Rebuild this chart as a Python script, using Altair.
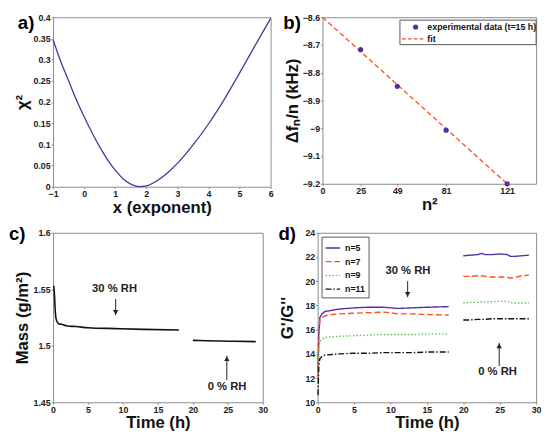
import altair as alt
import pandas as pd

FONT = "Liberation Sans"
PURPLE = "#55309a"
RED = "#ff4f1f"
GREEN = "#5cc25c"
BOX = "#8a8a8a"

# ---------- panel a : chi^2 vs exponent ----------
a_x = [-1, -0.75, -0.5, -0.25, 0, 0.25, 0.5, 0.75, 1.0, 1.25, 1.5, 1.75, 2.0,
       2.25, 2.5, 2.75, 3.0, 3.5, 4.0, 4.5, 5.0, 5.5, 6.0]
a_y = [0.347, 0.295, 0.25, 0.205, 0.165, 0.128, 0.094, 0.064, 0.039, 0.019, 0.006,
       0.0005, 0.002, 0.01, 0.022, 0.037, 0.055, 0.098, 0.148, 0.205, 0.268, 0.333, 0.397]
a_ticks_x = [-1, 0, 1, 2, 3, 4, 5, 6]
a_ticks_y = [0, 0.05, 0.1, 0.15, 0.2, 0.25, 0.3, 0.35, 0.4]

# ---------- panel b : delta f / n vs n^2 ----------
b_n2 = [25, 49, 81, 121]
b_df = [-8.717, -8.849, -9.007, -9.2]
b_fit_x = [0, 121]
b_fit_y = [-8.6, -9.2]
b_ticks_x = [0, 25, 49, 81, 121]
b_ticks_y = [-9.2, -9.1, -9.0, -8.9, -8.8, -8.7, -8.6]
b_series = ["experimental data (t=15 h)", "fit"]

# ---------- panel c : mass vs time ----------
c_t1 = [0.1, 0.2, 0.3, 0.4, 0.6, 0.8, 1.2, 2, 3.3, 5, 9, 13, 18]
c_m1 = [1.553, 1.545, 1.532, 1.525, 1.521, 1.5195, 1.519, 1.5175, 1.517, 1.516, 1.5152, 1.5145, 1.514]
c_t2 = [20, 22, 24, 26, 29]
c_m2 = [1.5048, 1.5045, 1.5042, 1.504, 1.5037]
c_ticks_x = [0, 5, 10, 15, 20, 25, 30]
c_ticks_y = [1.45, 1.5, 1.55, 1.6]

# ---------- panel d : G'/G'' vs time ----------
d_names = ["n=5", "n=7", "n=9", "n=11"]
d_t1 = [0.05, 0.15, 0.3, 0.6, 1, 2, 3, 5, 7, 9, 10, 11, 13, 15, 18]
d_v1 = {
    "n=5": [12.5, 15.5, 17.0, 17.3, 17.5, 17.6, 17.7, 17.8, 17.85, 17.85, 17.8, 17.75, 17.8, 17.85, 17.9],
    "n=7": [12.0, 15.0, 16.8, 17.0, 17.15, 17.25, 17.3, 17.35, 17.4, 17.45, 17.4, 17.3, 17.3, 17.25, 17.2],
    "n=9": [12.5, 14.2, 15.0, 15.2, 15.35, 15.4, 15.45, 15.5, 15.55, 15.6, 15.6, 15.6, 15.6, 15.65, 15.65],
    "n=11": [10.6, 12.8, 13.6, 13.8, 13.9, 13.95, 14.0, 14.05, 14.05, 14.1, 14.1, 14.1, 14.1, 14.15, 14.15],
}
d_t2 = [20, 21, 22, 22.5, 23, 24, 25, 26, 26.5, 27, 28, 29]
d_v2 = {
    "n=5": [22.1, 22.15, 22.2, 22.3, 22.2, 22.2, 22.25, 22.2, 22.05, 22.05, 22.1, 22.15],
    "n=7": [20.4, 20.4, 20.45, 20.45, 20.4, 20.35, 20.35, 20.35, 20.25, 20.3, 20.45, 20.5],
    "n=9": [18.2, 18.25, 18.25, 18.3, 18.3, 18.3, 18.35, 18.35, 18.25, 18.2, 18.2, 18.2],
    "n=11": [16.8, 16.8, 16.85, 16.85, 16.85, 16.9, 16.9, 16.9, 16.9, 16.9, 16.9, 16.9],
}
d_ticks_x = [0, 5, 10, 15, 20, 25, 30]
d_ticks_y = [10, 12, 14, 16, 18, 20, 22, 24]

# annotations (text, x, y) and arrows (x, y_tail, y_head)
c_notes = [("30 % RH", 8.8, 1.5498), ("0 % RH", 24.9, 1.4635)]
c_arrows = [(8.95, 1.5414, 1.527), (24.86, 1.4695, 1.4911)]
d_notes = [("30 % RH", 12.4, 20.83), ("0 % RH", 24.7, 12.47)]
d_arrows = [(12.36, 20.0, 18.67), (24.93, 13.0, 14.9)]


def axis(title, values, fmt="~r", tp=0):
    return alt.Axis(title=title, values=values, format=fmt, grid=False, ticks=True,
                    tickSize=2, tickColor=BOX, domain=False, labelPadding=1,
                    titlePadding=tp, labelFlush=False, labelOverlap=False)


def yaxis(title, values, fmt="~r"):
    return alt.Axis(title=title, values=values, format=fmt, grid=False, ticks=True,
                    tickSize=2, tickColor=BOX, domain=False, labelPadding=1,
                    titleX=-22, titleBaseline="bottom", titleAngle=270,
                    labelFlush=False, labelOverlap=False)


def panel_label(txt, dx, dy):
    return alt.Chart(pd.DataFrame({"t": [txt]})).mark_text(
        font=FONT, fontSize=19, fontWeight="bold", align="left", baseline="top"
    ).encode(text="t:N", x=alt.value(dx), y=alt.value(dy))


def arrows(arr, xs, ys, xax, yax):
    out = []
    for row in arr:
        up = row[2] > row[1]
        df = pd.DataFrame([row], columns=["x", "y0", "y1"])
        out.append(alt.Chart(df).mark_rule(color="#222", strokeWidth=1).encode(
            x=alt.X("x:Q", scale=xs, axis=xax), y=alt.Y("y0:Q", scale=ys, axis=yax),
            y2="y1:Q"))
        out.append(alt.Chart(df).mark_point(
            shape="triangle-up" if up else "triangle-down", filled=True, color="#222",
            size=30, opacity=1, yOffset=3 if up else -3).encode(
            x=alt.X("x:Q", scale=xs, axis=xax), y=alt.Y("y1:Q", scale=ys, axis=yax)))
    return out


def notes(nt, xs, ys, xax, yax):
    df = pd.DataFrame(nt, columns=["txt", "x", "y"])
    return alt.Chart(df).mark_text(font=FONT, fontSize=11.5, fontWeight="bold",
                                   color="#222").encode(
        x=alt.X("x:Q", scale=xs, axis=xax),
        y=alt.Y("y:Q", scale=ys, axis=yax),
        text="txt:N")


# ---------- panel a ----------
dfa = pd.DataFrame({"x": a_x, "y": a_y})
pa = alt.Chart(dfa).mark_line(color=PURPLE, strokeWidth=1.3, interpolate="monotone").encode(
    x=alt.X("x:Q", scale=alt.Scale(domain=[-1, 6], nice=False),
            axis=axis("x (exponent)", a_ticks_x, tp=1)),
    y=alt.Y("y:Q", scale=alt.Scale(domain=[0, 0.4], nice=False),
            axis=yaxis("χ²", a_ticks_y))
)
chart_a = alt.layer(pa, panel_label("a)", -36, -3)).properties(width=222, height=173)

# ---------- panel b ----------
dfb = pd.DataFrame({"n2": b_n2, "df": b_df})
dfbf = pd.DataFrame({"n2": b_fit_x, "df": b_fit_y})
bx = alt.Scale(domain=[0, 140], nice=False)
by = alt.Scale(domain=[-9.2, -8.6], nice=False, zero=False)
bxa = axis("n²", b_ticks_x, fmt="d", tp=1)
bya = yaxis("Δfₙ/n (kHz)", b_ticks_y)
pb_line = alt.Chart(dfbf).mark_line(strokeWidth=1.3, strokeDash=[5, 3], color=RED).encode(
    x=alt.X("n2:Q", scale=bx, axis=bxa),
    y=alt.Y("df:Q", scale=by, axis=bya),
)
pb_pts = alt.Chart(dfb).mark_point(filled=True, size=28, opacity=1, color=PURPLE).encode(
    x=alt.X("n2:Q", scale=bx, axis=bxa), y=alt.Y("df:Q", scale=by, axis=bya),
)
# legend box for panel b (built from the series names)
leg_df = pd.DataFrame({"label": b_series})
lb_box = alt.Chart(pd.DataFrame({"k": [0]})).mark_rect(
    fill="white", stroke="#555", strokeWidth=1).encode(
    x=alt.value(79), x2=alt.value(218), y=alt.value(3), y2=alt.value(28))
lb_pt = alt.Chart(leg_df.iloc[[0]]).mark_point(filled=True, size=28, opacity=1,
                                               color=PURPLE).encode(
    x=alt.value(95), y=alt.value(10))
lb_ln = alt.Chart(leg_df.iloc[[1]]).mark_rule(color=RED, strokeWidth=1.3,
                                              strokeDash=[4, 2]).encode(
    x=alt.value(81), x2=alt.value(105), y=alt.value(22))
lb_t1 = alt.Chart(leg_df.iloc[[0]]).mark_text(font=FONT, fontSize=9, fontWeight="bold",
                                             align="left", color="#111").encode(
    text="label:N", x=alt.value(107), y=alt.value(10))
lb_t2 = alt.Chart(leg_df.iloc[[1]]).mark_text(font=FONT, fontSize=9, fontWeight="bold",
                                             align="left", color="#111").encode(
    text="label:N", x=alt.value(107), y=alt.value(22))
chart_b = alt.layer(pb_line, pb_pts, lb_box, lb_pt, lb_ln, lb_t1, lb_t2,
                    panel_label("b)", -40, -3)).properties(width=218, height=170)

# ---------- panel c ----------
dfc = pd.concat([
    pd.DataFrame({"t": c_t1, "m": c_m1, "seg": 1}),
    pd.DataFrame({"t": c_t2, "m": c_m2, "seg": 2}),
])
cxs = alt.Scale(domain=[0, 30], nice=False)
cys = alt.Scale(domain=[1.45, 1.6], nice=False, zero=False)
cxa = axis("Time (h)", c_ticks_x, tp=1)
cya = yaxis("Mass (g/m²)", c_ticks_y)
pc = alt.Chart(dfc).mark_line(color="#111", strokeWidth=1.6, interpolate="monotone").encode(
    x=alt.X("t:Q", scale=cxs, axis=cxa),
    y=alt.Y("m:Q", scale=cys, axis=cya),
    detail="seg:N",
)
chart_c = alt.layer(pc, notes(c_notes, cxs, cys, cxa, cya), *arrows(c_arrows, cxs, cys, cxa, cya),
                    panel_label("c)", -45, -8)).properties(width=214, height=173)

# ---------- panel d ----------
rows = []
for nm in d_names:
    for t, v in zip(d_t1, d_v1[nm]):
        rows.append({"t": t, "v": v, "n": nm, "seg": nm + "a"})
    for t, v in zip(d_t2, d_v2[nm]):
        rows.append({"t": t, "v": v, "n": nm, "seg": nm + "b"})
dfd = pd.DataFrame(rows)
dxs = alt.Scale(domain=[0, 30], nice=False)
dys = alt.Scale(domain=[10, 24], nice=False, zero=False)
dxa = axis("Time (h)", d_ticks_x, tp=1)
dya = yaxis("G'/G''", d_ticks_y)
leg_d = alt.Legend(title=None, orient="top-left", offset=4, strokeColor="#555",
                   fillColor="white", padding=3, labelFont=FONT, labelFontSize=9,
                   labelFontWeight="bold", labelColor="#111", symbolType="stroke",
                   symbolSize=220, symbolStrokeWidth=1.4, rowPadding=0)
pd_ = alt.Chart(dfd).mark_line(strokeWidth=1.4).encode(
    x=alt.X("t:Q", scale=dxs, axis=dxa),
    y=alt.Y("v:Q", scale=dys, axis=dya),
    color=alt.Color("n:N", scale=alt.Scale(domain=d_names, range=[PURPLE, RED, GREEN, "#111"]),
                    legend=leg_d),
    strokeDash=alt.StrokeDash("n:N", scale=alt.Scale(
        domain=d_names, range=[[1, 0], [6, 3], [1.5, 2], [6, 2, 1.5, 2]]), legend=leg_d),
    detail="seg:N",
)
chart_d = alt.layer(pd_, notes(d_notes, dxs, dys, dxa, dya), *arrows(d_arrows, dxs, dys, dxa, dya),
                    panel_label("d)", -40, -8)).properties(width=223, height=173)

row1 = alt.hconcat(chart_a, chart_b, spacing=8)
row2 = alt.hconcat(chart_c, chart_d, spacing=9).resolve_legend(
    color="independent", strokeDash="independent")
chart = alt.vconcat(row1, row2, spacing=8).resolve_legend(
    color="independent", strokeDash="independent"
).properties(padding=0).configure_view(
    stroke=BOX, strokeWidth=1
).configure_axis(
    labelFont=FONT, labelFontSize=9, labelFontWeight="bold", labelColor="#222",
    titleFont=FONT, titleFontSize=17, titleFontWeight="bold", titleColor="#111",
    labelOverlap=False,
).configure_axisY(titleFontSize=17)

chart.save("out.html", embed_options={"renderer": "svg", "actions": False})
